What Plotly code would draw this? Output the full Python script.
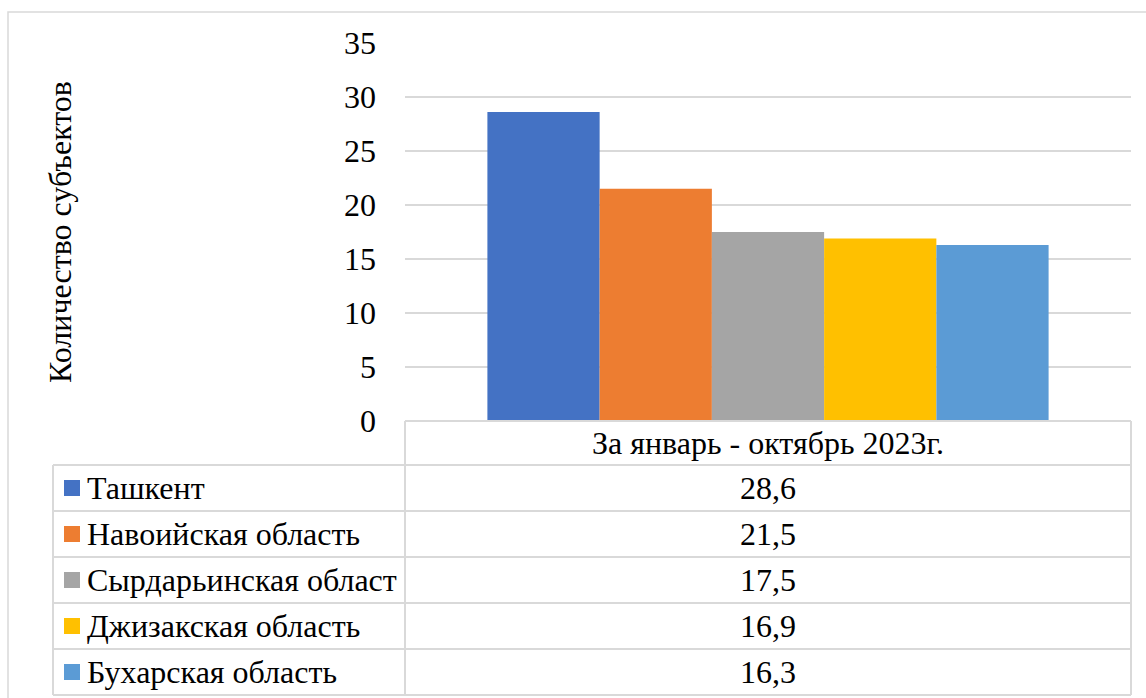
import plotly.graph_objects as go

category = "За январь - октябрь 2023г."
regions = ["Ташкент", "Навоийская область", "Сырдарьинская област", "Джизакская область", "Бухарская область"]
values = [28.6, 21.5, 17.5, 16.9, 16.3]
colors = ["#4472C4", "#ED7D31", "#A5A5A5", "#FFC000", "#5B9BD5"]
y_ticks = [0, 5, 10, 15, 20, 25, 30, 35]
y_title = "Количество субъектов"

W, H = 1146, 698
L, R, T, B = 405, 1131, 43, 421
PW, PH = R - L, B - T

def px(x):
    return (x - L) / PW

def py(y):
    return (B - y) / PH

FONT = "Liberation Serif"
FS = 32
GRID = "#d9d9d9"

fig = go.Figure()
for name, v, c in zip(regions, values, colors):
    fig.add_trace(go.Bar(x=[category], y=[v], name=name, marker=dict(color=c, line=dict(width=0)),
                         showlegend=False, hoverinfo="skip"))

shapes = []
annotations = []

# outer chart frame
shapes.append(dict(type="rect", xref="paper", yref="paper", x0=px(8), x1=px(1150), y0=py(710), y1=py(12),
                   line=dict(color=GRID, width=1.5), layer="below"))

# table geometry
header_top, header_bot = 421, 465
row_h = 46
tbl_left = 53
n = len(regions)
tbl_bot = header_bot + row_h * n

line_style = dict(color=GRID, width=2)
shapes.append(dict(type="line", xref="paper", yref="paper", x0=px(L), x1=px(R), y0=py(header_top), y1=py(header_top), line=line_style))
shapes.append(dict(type="line", xref="paper", yref="paper", x0=px(L), x1=px(L), y0=py(header_top), y1=py(tbl_bot), line=line_style))
shapes.append(dict(type="line", xref="paper", yref="paper", x0=px(R), x1=px(R), y0=py(header_top), y1=py(tbl_bot), line=line_style))
shapes.append(dict(type="line", xref="paper", yref="paper", x0=px(tbl_left), x1=px(tbl_left), y0=py(header_bot), y1=py(tbl_bot), line=line_style))
for i in range(n + 1):
    yy = header_bot + row_h * i
    shapes.append(dict(type="line", xref="paper", yref="paper", x0=px(tbl_left), x1=px(R), y0=py(yy), y1=py(yy), line=line_style))

annotations.append(dict(text=category, xref="paper", yref="paper", x=px((L + R) / 2), y=py((header_top + header_bot) / 2),
                        showarrow=False, font=dict(family=FONT, size=FS, color="#000"), xanchor="center", yanchor="middle"))

for i, (name, v, c) in enumerate(zip(regions, values, colors)):
    cy = header_bot + row_h * i + row_h / 2
    shapes.append(dict(type="rect", xref="paper", yref="paper", x0=px(64), x1=px(80), y0=py(cy + 8), y1=py(cy - 8),
                       fillcolor=c, line=dict(width=0)))
    annotations.append(dict(text=name, xref="paper", yref="paper", x=px(85), y=py(cy), showarrow=False,
                            font=dict(family=FONT, size=FS, color="#000"), xanchor="left", yanchor="middle"))
    annotations.append(dict(text=f"{v:.1f}".replace(".", ","), xref="paper", yref="paper", x=px((L + R) / 2), y=py(cy),
                            showarrow=False, font=dict(family=FONT, size=FS, color="#000"), xanchor="center", yanchor="middle"))

annotations.append(dict(text=y_title, xref="paper", yref="paper", x=px(60), y=0.5, textangle=-90, showarrow=False,
                        font=dict(family=FONT, size=FS, color="#000"), xanchor="center", yanchor="middle"))

fig.update_layout(
    width=W, height=H,
    margin=dict(l=L, r=W - R, t=T, b=H - B, pad=0),
    paper_bgcolor="white", plot_bgcolor="white",
    barmode="group", bargap=0.227, bargroupgap=0,
    shapes=shapes, annotations=annotations,
    xaxis=dict(showticklabels=False, showgrid=False, zeroline=False, showline=False, ticks=""),
    yaxis=dict(range=[0, 35], tickvals=y_ticks, showgrid=True, gridcolor=GRID, gridwidth=1.5,
               zeroline=False, showline=False, ticks="", ticklabelstandoff=28,
               tickfont=dict(family=FONT, size=FS, color="#000")),
    font=dict(family=FONT),
    hovermode=False,
)

fig.write_html("out.html", config={"displayModeBar": False}, post_script="document.body.style.margin='0';")
